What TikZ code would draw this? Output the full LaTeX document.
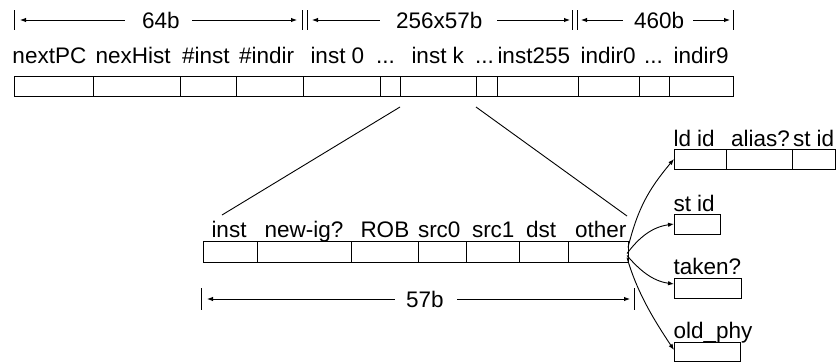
\documentclass[tikz,border=0pt]{standalone}
\usepackage{fontspec}
\setmainfont{Liberation Sans}
\usetikzlibrary{arrows.meta}
\begin{document}
\begin{tikzpicture}[x=1pt,y=-1pt,
  font=\fontsize{22.5}{27}\selectfont,
  cell/.style={draw, line width=1pt, minimum height=20pt, inner sep=0pt, outer sep=0pt, anchor=north west},
  lbl/.style={anchor=base west, inner sep=0pt, outer sep=0pt},
  thin/.style={line width=0.9pt},
  tip/.style={line width=0.9pt, -{Latex[length=6pt,width=4.5pt]}},
  backtip/.style={line width=0.9pt, {Latex[length=6pt,width=4.5pt]}-}]
\useasboundingbox (0,0) rectangle (836,362);

% ---------- top record ----------
\node[cell, minimum width=79pt] (t1) at (14,76) {};
\node[cell, minimum width=87pt] (t2) at (93,76) {};
\node[cell, minimum width=56pt] (t3) at (180,76) {};
\node[cell, minimum width=67pt] (t4) at (236,76) {};
\node[cell, minimum width=77pt] (t5) at (303,76) {};
\node[cell, minimum width=20pt] (t6) at (380,76) {};
\node[cell, minimum width=76pt] (tk) at (400,76) {};
\node[cell, minimum width=21pt] (t8) at (476,76) {};
\node[cell, minimum width=81pt] (t9) at (497,76) {};
\node[cell, minimum width=61pt] (t10) at (578,76) {};
\node[cell, minimum width=30pt] (t11) at (639,76) {};
\node[cell, minimum width=64pt] (t12) at (669,76) {};

\node[lbl] (l1) at (12.5,63) {nextPC};
\node[lbl] (l2) at (95.5,63) {nexHist};
\node[lbl] (l3) at (182,63) {\#inst};
\node[lbl] (l4) at (239,63) {\#indir};
\node[lbl] (l5) at (310.5,63) {inst 0};
\node[lbl] (l6) at (376,63) {...};
\node[lbl] (l7) at (411.5,63) {inst k};
\node[lbl] (l8) at (475,63) {...};
\node[lbl] (l9) at (497.5,63) {inst255};
\node[lbl] (l10) at (580.5,63) {indir0};
\node[lbl] (l11) at (644,63) {...};
\node[lbl] (l12) at (673.5,63) {indir9};

% ---------- top dimensions ----------
\coordinate (b0) at (14,20);
\coordinate (b1) at (302,20);
\coordinate (b2) at (307,20);
\coordinate (b3) at (572,20);
\coordinate (b4) at (577,20);
\coordinate (b5) at (733,20);
\foreach \b in {b0,b1,b2,b3,b4,b5}
  \draw[thin] ([yshift=10pt]\b) -- ([yshift=-10pt]\b);

\node[lbl] (d1) at (142,28) {64b};
\node[lbl] (d2) at (396,28) {256x57b};
\node[lbl] (d3) at (634,28) {460b};
\draw[backtip] ([xshift=6pt]b0) -- (125,20);
\draw[tip] (192,20) -- ([xshift=-5pt]b1);
\draw[backtip] ([xshift=5pt]b2) -- (380,20);
\draw[tip] (497,20) -- ([xshift=-2pt]b3);
\draw[backtip] ([xshift=4pt]b4) -- (623,20);
\draw[tip] (693,20) -- ([xshift=-3pt]b5);

% ---------- instruction record ----------
\node[cell, minimum width=54pt, minimum height=21pt] (m1) at (203,241) {};
\node[cell, minimum width=94pt, minimum height=21pt] (m2) at (257,241) {};
\node[cell, minimum width=67pt, minimum height=21pt] (m3) at (351,241) {};
\node[cell, minimum width=48pt, minimum height=21pt] (m4) at (418,241) {};
\node[cell, minimum width=53pt, minimum height=21pt] (m5) at (466,241) {};
\node[cell, minimum width=49pt, minimum height=21pt] (m6) at (519,241) {};
\node[cell, minimum width=60pt, minimum height=21pt] (m7) at (568,241) {};

\node[lbl] (n1) at (211.5,237) {inst};
\node[lbl] (n2) at (264.5,237) {new-ig?};
\node[lbl] (n3) at (360.5,237) {ROB};
\node[lbl] (n4) at (418,237) {src0};
\node[lbl] (n5) at (472,237) {src1};
\node[lbl] (n6) at (526,237) {dst};
\node[lbl] (n7) at (575,237) {other};

% zoom lines
\coordinate (kL) at ([yshift=-11pt]tk.south west);
\coordinate (kR) at ([yshift=-11pt]tk.south east);
\coordinate (mL) at ([xshift=19pt,yshift=26pt]m1.north west);
\coordinate (mR) at ([xshift=-1pt,yshift=25pt]m7.north east);
\draw[thin] (kL) -- (mL);
\draw[thin] (kR) -- (mR);

% 57b dimension
\coordinate (e0) at (201,299);
\coordinate (e1) at (634,299);
\foreach \b in {e0,e1}
  \draw[thin] ([yshift=11pt]\b) -- ([yshift=-11pt]\b);
\node[lbl] (d4) at (406,307) {57b};
\draw[backtip] ([xshift=6pt]e0) -- (395,299);
\draw[tip] (457,299) -- ([xshift=-4pt]e1);

% ---------- sub-records ----------
\node[cell, minimum width=52pt] (r1) at (674,149) {};
\node[cell, minimum width=66pt] (r2) at (726,149) {};
\node[cell, minimum width=43pt] (r3) at (792,149) {};
\node[lbl] (s1) at (673.5,146) {ld id};
\node[lbl] (s2) at (731,146) {alias?};
\node[lbl] (s3) at (793,146) {st id};

\node[cell, minimum width=46pt] (q1) at (674,214) {};
\node[lbl] (s4) at (673.5,211) {st id};

\node[cell, minimum width=67pt] (p1) at (674,278) {};
\node[lbl] (s5) at (673.5,274) {taken?};

\node[cell, minimum width=66pt, minimum height=19pt] (o1) at (674,342) {};
\node[lbl] (s6) at (673.5,338) {old\_phy};

% arrows from "other"
\coordinate (oa) at ([xshift=0pt,yshift=4pt]m7.east);
\coordinate (ob) at ([xshift=-1pt,yshift=-2pt]m7.east);
\coordinate (oc) at ([xshift=-1pt,yshift=-4pt]m7.east);
\coordinate (od) at ([xshift=-1pt,yshift=-6pt]m7.east);
\draw[tip] (oa) .. controls +(10,-40) and +(-25,30) .. (r1.west);
\draw[tip] (ob) .. controls +(12,-16) and +(-22,3) .. (q1.west);
\draw[tip] (oc) .. controls +(12,14) and +(-22,-3) .. ([yshift=4pt]p1.west);
\draw[tip] (od) .. controls +(10,35) and +(-20,-30) .. ([yshift=1.5pt]o1.west);
\end{tikzpicture}
\end{document}
